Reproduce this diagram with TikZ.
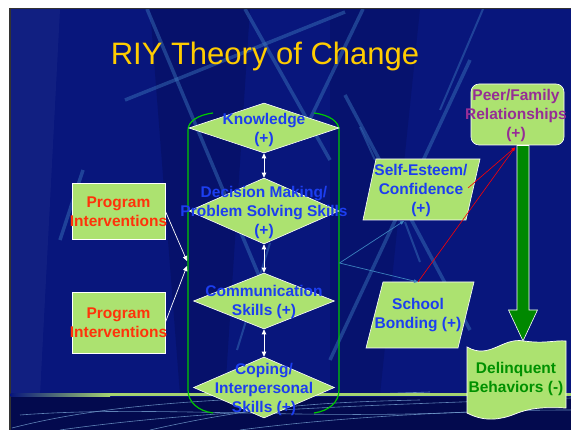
\documentclass[tikz,border=0pt]{standalone}
\usepackage{fontspec}
\setmainfont{Liberation Sans}
\usetikzlibrary{shapes.geometric,arrows.meta}
\definecolor{bgnavy}{RGB}{8,22,124}
\definecolor{deepnavy}{RGB}{3,10,78}
\definecolor{stripe}{RGB}{60,120,190}
\definecolor{lgreen}{RGB}{172,226,112}
\definecolor{bandgreen}{RGB}{165,212,112}
\definecolor{txtblue}{RGB}{28,62,240}
\definecolor{txtred}{RGB}{255,51,10}
\definecolor{txtpurple}{RGB}{150,45,150}
\definecolor{txtgreen}{RGB}{0,145,0}
\definecolor{brkgreen}{RGB}{0,200,0}
\definecolor{arrgreen}{RGB}{0,136,0}
\definecolor{ttlyellow}{RGB}{255,204,0}
\definecolor{linkblue}{RGB}{60,130,190}
\begin{document}
\begin{tikzpicture}[x=1pt,y=-1pt,
  diam/.style={shape=diamond, fill=lgreen, draw=white, line width=0.6pt, inner sep=0pt},
  lab/.style={align=center, inner sep=0pt, font=\fontsize{15.5}{19}\selectfont\bfseries},
  bt/.style={lab, text=txtblue},
  rt/.style={lab, text=txtred},
  pt/.style={lab, text=txtpurple},
  gt/.style={lab, text=txtgreen},
  box/.style={fill=lgreen, draw=white, line width=0.6pt},
  warr/.style={draw=white, line width=0.7pt},
  wtip/.style={-{Triangle[length=5pt,width=4.5pt]}},
  bgline/.style={draw=stripe, line width=3.5pt, opacity=0.45},
  bandline/.style={draw=stripe!70!white, line width=0.6pt, opacity=0.8},
  linkl/.style={draw=linkblue, line width=0.7pt},
  redl/.style={draw=red, line width=0.6pt}
]
\useasboundingbox (0,0) rectangle (571,430);
\fill[white] (0,0) rectangle (571,430);
\fill[bgnavy] (9,8) rectangle (571,430);
% subtle background wedges
\fill[deepnavy, opacity=0.35] (150,9) -- (250,9) -- (225,395) -- (180,395) -- cycle;
\fill[deepnavy, opacity=0.3] (330,9) -- (420,9) -- (380,395) -- (330,395) -- cycle;
\fill[white, opacity=0.04] (9,9) -- (60,9) -- (40,395) -- (9,395) -- cycle;
% background stripes
\draw[bgline] (125,100) -- (345,12);
\draw[bgline] (147,9) -- (265,290);
\draw[bgline] (245,9) -- (330,160);
\draw[bgline] (363,9) -- (300,140);
\draw[bgline, line width=2pt] (483,9) -- (440,110);
\draw[bgline] (345,95) -- (470,330);
\draw[bgline] (470,60) -- (330,360);
\draw[bgline] (83,170) -- (60,240);
\draw[bgline, line width=2pt] (360,127) -- (375,160);
\draw[bgline, line width=2pt] (270,243) -- (237,350);
\draw[bgline, line width=2pt] (405,222) -- (420,262);
% slide border
\draw[black!80, line width=1.5pt] (9,8.75) -- (571,8.75);
\draw[black!80, line width=1.5pt] (9.75,8) -- (9.75,430);
% bottom band
\fill[deepnavy] (10.5,397) rectangle (571,430);
\draw[bandline] (12,428) .. controls (120,400) and (250,398) .. (430,392);
\draw[bandline] (60,430) .. controls (200,410) and (380,405) .. (571,398);
\draw[bandline] (20,415) .. controls (150,405) and (300,420) .. (470,412);
\draw[bandline] (240,430) .. controls (330,418) and (460,410) .. (571,410);
\draw[bandline] (150,430) .. controls (260,405) and (330,402) .. (420,400);
\shade[left color=bgnavy, right color=bandgreen] (10.5,393.5) rectangle (110,396.5);
\fill[bandgreen] (110,393.5) rectangle (571,396.5);
% title
\node[anchor=base, text=ttlyellow, inner sep=0pt, font=\fontsize{31}{36}\selectfont] (ttl) at (265,65) {RIY Theory of Change};
% bracket
\draw[brkgreen, line width=1.2pt] (213,113) .. controls (197,115) and (188,122) .. (188,130) -- (188,390) .. controls (188,402) and (198,411) .. (213,413);
\draw[brkgreen, line width=1.2pt] (314,113) .. controls (330,115) and (339,122) .. (339,130) -- (339,390) .. controls (339,402) and (329,411) .. (314,413);
% diamonds
\node[diam, minimum width=150pt, minimum height=50pt] (know) at (264,128) {};
\node[diam, minimum width=150pt, minimum height=66pt] (dec) at (264,211) {};
\node[diam, minimum width=141pt, minimum height=56pt] (comm) at (264,301) {};
\node[diam, minimum width=141pt, minimum height=61pt] (cope) at (264,387.5) {};
\node[bt] (knowt) at (264,130) {Knowledge\\(+)};
\node[bt] (dect) at (264,212.5) {Decision Making/\\Problem Solving Skills\\(+)};
\node[bt] (commt) at (264,302) {Communication\\Skills (+)};
\node[bt] (copet) at (264,389) {Coping/\\Interpersonal\\Skills (+)};
\draw[warr, {Triangle[length=5pt,width=4.5pt]}-{Triangle[length=5pt,width=4.5pt]}] (know.south) -- (dec.north);
\draw[warr, {Triangle[length=5pt,width=4.5pt]}-{Triangle[length=5pt,width=4.5pt]}] (dec.south) -- (comm.north);
\draw[warr, {Triangle[length=5pt,width=4.5pt]}-{Triangle[length=5pt,width=4.5pt]}] (comm.south) -- (cope.north);
% program interventions
\node[box, minimum width=93pt, minimum height=56pt, inner sep=0pt] (prog1) at (118.5,211) {};
\node[box, minimum width=93pt, minimum height=61pt, inner sep=0pt] (prog2) at (118.5,322.5) {};
\node[rt] (prog1t) at (118.5,212) {Program\\Interventions};
\node[rt] (prog2t) at (118.5,323) {Program\\Interventions};
\coordinate (in1) at (187,261);
\coordinate (in2) at (187,266);
\draw[warr, wtip] (prog1.east) -- (in1);
\draw[warr, wtip] (prog2.east) -- (in2);
% self-esteem / school bonding
\fill[lgreen, draw=white, line width=0.6pt] (376,159) -- (480,159) -- (466,220) -- (363,220) -- cycle;
\fill[lgreen, draw=white, line width=0.6pt] (383,282) -- (474,282) -- (458,348) -- (366,348) -- cycle;
\node[bt] (self) at (421,190) {Self-Esteem/\\Confidence\\(+)};
\node[bt] (school) at (418,315.5) {School\\Bonding (+)};
% peer / family
\node[box, rounded corners=8pt, minimum width=93pt, minimum height=61pt, inner sep=0pt] (peer) at (517.5,114.5) {};
\node[pt] (peert) at (516,115.5) {Peer/Family\\Relationships\\(+)};
% delinquent
\fill[lgreen, draw=white, line width=0.7pt] (467,347) .. controls (490,360) and (502,337) .. (524,341) .. controls (545,344) and (555,340) .. (566,341) -- (566,408) .. controls (542,407) and (530,408) .. (515,414) .. controls (500,420) and (484,422) .. (467,413) -- cycle;
\node[gt] (delin) at (516,379) {Delinquent\\Behaviors (-)};
% big green arrow
\fill[arrgreen, draw=white, line width=0.6pt] (517,145.5) -- (529,145.5) -- (529,310) -- (537.5,310) -- (523,341) -- (508.5,310) -- (517,310) -- cycle;
% links
\coordinate (brk) at (339.5,263);
\coordinate (selfin) at (404,221);
\coordinate (schin) at (418,282);
\coordinate (selfout) at (468,188);
\coordinate (peerin) at (515,147.5);
\draw[linkl, -{Triangle[length=4pt,width=3.5pt]}] (brk) -- (selfin);
\draw[linkl, -{Triangle[length=4pt,width=3.5pt]}] (brk) -- (schin);
\draw[redl, -{Triangle[length=3.5pt,width=3pt]}] (selfout) -- (peerin);
\draw[redl, -{Triangle[length=3.5pt,width=3pt]}] (schin) -- (peerin);
\end{tikzpicture}
\end{document}
